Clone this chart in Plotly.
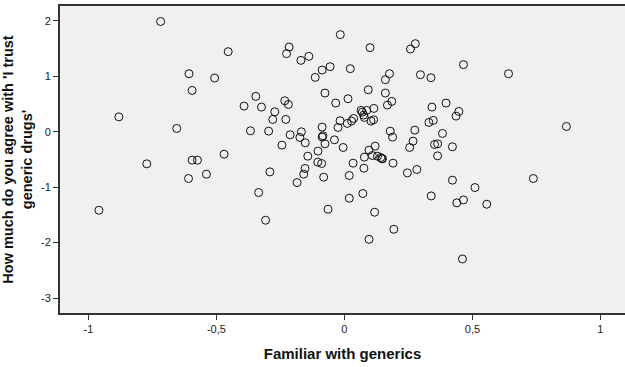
import plotly.graph_objects as go

# Familiarity score (x) and trust score (y) per respondent
familiar = [
    -0.718, -0.881, -0.959, -0.772, -0.655, -0.607, -0.595, -0.609, -0.595, -0.574,
    -0.539, -0.507, -0.470, -0.454, -0.392, -0.367, -0.346, -0.335, -0.324, -0.308,
    -0.296, -0.291, -0.272, -0.280, -0.244, -0.233, -0.229, -0.226, -0.219, -0.216,
    -0.212, -0.185, -0.174, -0.170, -0.168, -0.159, -0.154, -0.153, -0.143, -0.139,
    -0.114, -0.103, -0.104, -0.089, -0.087, -0.087, -0.087, -0.084, -0.081, -0.076,
    -0.076, -0.064, -0.056, -0.039, -0.034, -0.025, -0.017, -0.016, -0.005, 0.011,
    0.014, 0.019, 0.019, 0.023, 0.028, 0.034, 0.036, 0.065, 0.070, 0.075,
    0.078, 0.072, 0.076, 0.078, 0.087, 0.093, 0.096, 0.096, 0.100, 0.104,
    0.109, 0.114, 0.115, 0.118, 0.120, 0.129, 0.142, 0.146, 0.149, 0.160,
    0.160, 0.168, 0.176, 0.179, 0.185, 0.188, 0.190, 0.193, 0.246, 0.255,
    0.258, 0.268, 0.275, 0.277, 0.283, 0.297, 0.330, 0.338, 0.339, 0.342,
    0.347, 0.352, 0.364, 0.364, 0.383, 0.397, 0.422, 0.422, 0.436, 0.439,
    0.447, 0.461, 0.465, 0.465, 0.510, 0.556, 0.641, 0.738, 0.867,
]
trust = [
    1.99, 0.27, -1.416, -0.578, 0.06, 1.048, 0.747, -0.843, -0.512, -0.512,
    -0.765, 0.97, -0.404, 1.446, 0.464, 0.018, 0.639, -1.096, 0.446, -1.596,
    0.012, -0.723, 0.361, 0.223, -0.241, 0.560, 0.223, 1.41, 0.494, 1.53,
    -0.054, -0.916, -0.102, 1.289, 0.0, -0.765, -0.663, -0.199, -0.44, 1.361,
    0.982, -0.349, -0.548, -0.572, 1.114, 0.084, -0.096, -0.072, -0.819, -0.217,
    0.699, -1.398, 1.175, -0.145, 0.518, 0.078, 0.199, 1.753, -0.283, 0.151,
    0.596, -0.789, -1.199, 1.139, 0.193, -0.566, 0.241, 0.386, 0.355, 0.301,
    0.259, -1.114, -0.657, -0.458, 0.386, 0.759, -0.331, -1.94, 1.518, 0.193,
    -0.428, 0.217, 0.422, -1.452, -0.259, -0.44, -0.464, -0.482, -0.488, 0.94,
    0.699, 0.482, 1.048, 0.012, 0.548, -0.096, -0.566, -1.759, -0.741, -0.283,
    1.494, -0.169, 0.030, 1.59, -0.681, 1.03, 0.169, 0.976, -1.157, 0.446,
    0.205, -0.229, -0.217, -0.434, -0.030, 0.518, -0.873, -0.271, 0.283, -1.283,
    0.367, -2.295, -1.229, 1.211, -1.006, -1.307, 1.048, -0.843, 0.096,
]

x_ticks = [-1, -0.5, 0, 0.5, 1]
x_tick_labels = ["-1", "-0,5", "0", "0,5", "1"]
y_ticks = [-3, -2, -1, 0, 1, 2]
y_tick_labels = ["-3", "-2", "-1", "0", "1", "2"]

fig = go.Figure(
    go.Scatter(
        x=familiar,
        y=trust,
        mode="markers",
        marker=dict(symbol="circle-open", size=8, color="#111111",
                    line=dict(width=1, color="#111111")),
        hoverinfo="skip",
    )
)

tick_font = dict(family="Liberation Sans Narrow, Arial Narrow, Liberation Sans, Arial",
                 size=11, color="#222222")

fig.update_layout(
    width=625,
    height=367,
    margin=dict(l=60, r=0, t=6, b=54),
    paper_bgcolor="white",
    plot_bgcolor="#F0F0F0",
    showlegend=False,
    xaxis=dict(
        range=[-1.111, 1.096],
        tickvals=x_ticks,
        ticktext=x_tick_labels,
        ticks="outside",
        ticklen=5,
        tickcolor="#333333",
        showline=True,
        linecolor="#333333",
        linewidth=2,
        mirror=True,
        showgrid=False,
        zeroline=False,
        tickfont=tick_font,
        title=dict(text="<b>Familiar with generics</b>",
                   font=dict(family="Liberation Sans, Arial", size=15, color="#111111"),
                   standoff=14),
    ),
    yaxis=dict(
        range=[-3.27, 2.27],
        tickvals=y_ticks,
        ticktext=y_tick_labels,
        ticks="outside",
        ticklen=5,
        tickcolor="#333333",
        showline=True,
        linecolor="#333333",
        linewidth=2,
        showgrid=False,
        zeroline=False,
        tickfont=tick_font,
        title=dict(text="<b>How much do you agree with 'I trust<br>generic drugs'</b>",
                   font=dict(family="Liberation Sans, Arial", size=14.5, color="#111111"),
                   standoff=7),
    ),
)

fig.write_html("out.html")
